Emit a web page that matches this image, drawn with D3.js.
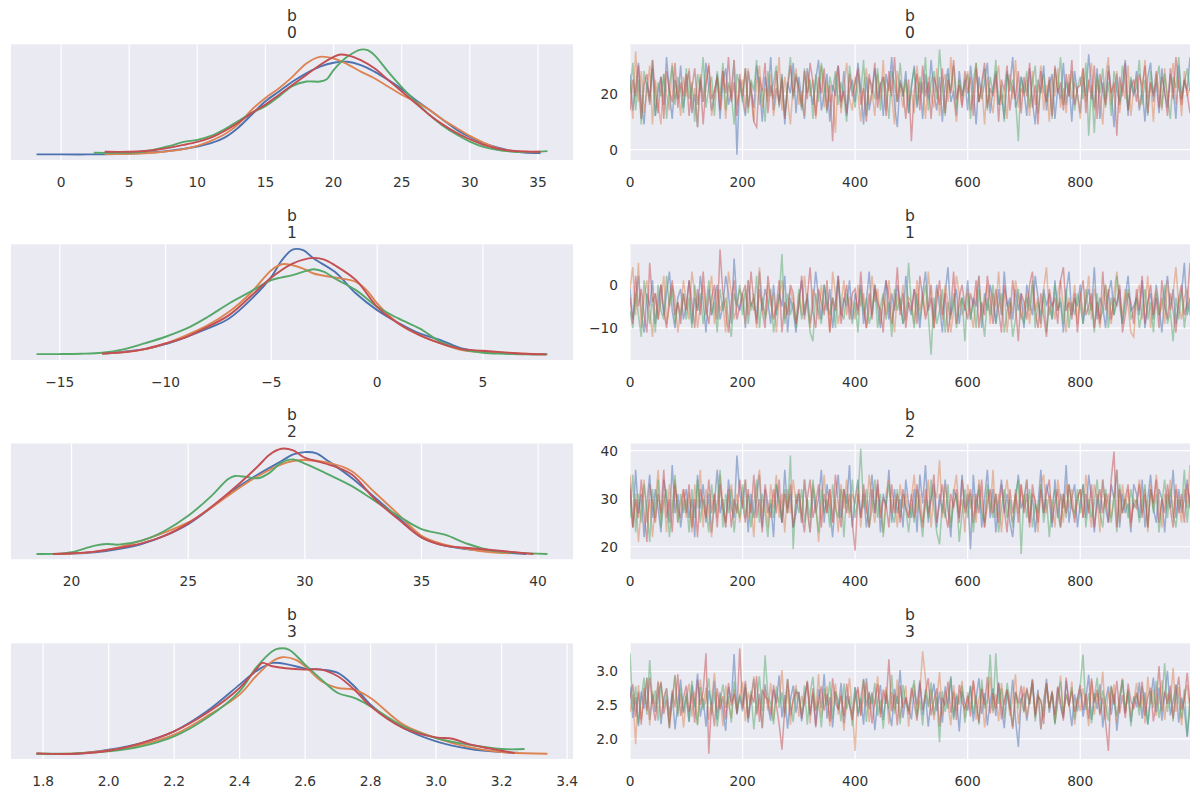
<!DOCTYPE html>
<html><head><meta charset="utf-8">
<script src="https://cdn.jsdelivr.net/npm/d3@7"></script>
<style>
body{margin:0;background:#fff}
svg{display:block}
text{font-family:"DejaVu Sans",sans-serif;fill:#333}
</style>
</head><body>
<svg id="chart" width="1200" height="796"></svg>
<script>
// ---------- labels ----------
const varName = "b";
const coordLabels = ["0", "1", "2", "3"];
const chainColors = ["#4c72b0", "#dd8452", "#55a868", "#c44e52"];

// ---------- tick values ----------
const kdeTicks = [
  [0, 5, 10, 15, 20, 25, 30, 35],
  [-15, -10, -5, 0, 5],
  [20, 25, 30, 35, 40],
  [1.8, 2.0, 2.2, 2.4, 2.6, 2.8, 3.0, 3.2, 3.4]
];
const traceYTicks = [[0, 20], [-10, 0], [20, 30, 40], [2.0, 2.5, 3.0]];
const traceXTicks = [0, 200, 400, 600, 800];
const thin = 5; // every 5th draw kept

// ---------- KDE curves (x, relative density) per chain: blue, orange, green, red ----------
const kde0X = [
  [-1.8,0,2,4,6,8,10,11,12,13,14,15,16,17,18,19,20,21,22,23,24,25,26,27,28,29,30,31,32,33,34,35.2],
  [3.2,5,7,9,10,11,12,13,14,15,16,17,18,19,20,21,22,23,24,25,26,27,28,29,30,31,32,33,34,35],
  [2.4,4,6,8,9,10,11,12,13,14,15,16,17,18,19,19.5,20,21,22,22.5,23,24,25,26,27,28,29,30,31,32,33,34,35.7],
  [3.2,5,7,9,10,11,12,13,14,15,16,17,18,19,20,20.5,21,22,23,24,25,26,27,28,29,30,31,32,33,34,35.2]
];
const kde0Y = [
  [1,1,1,2,5,12,25,35,52,82,122,162,192,222,247,267,279,282,272,252,227,199,167,137,107,77,54,35,22,12,7,5],
  [2,3,7,17,27,42,62,92,137,172,202,237,277,297,292,275,252,232,207,182,162,137,107,82,57,37,20,12,9,8],
  [6,6,9,27,39,45,57,77,102,127,147,177,209,222,222,229,257,297,319,317,302,252,205,162,122,89,62,40,24,15,10,8,11],
  [9,9,15,30,39,52,72,97,127,152,182,212,242,272,297,304,302,287,262,227,192,157,122,92,67,47,30,19,12,10,9]
];
const kde1X = [
  [-13,-12,-11,-10,-9,-8,-7,-6,-5,-4.5,-4,-3.5,-3,-2,-1,0,1,2,3,4,5,6,7,8],
  [-13,-12,-11,-10,-9,-8,-7,-6,-5,-4.5,-4,-3.5,-3,-2,-1,-0.5,0,1,2,3,4,5,6,7,8],
  [-16.1,-15,-14,-13,-12,-11,-10,-9,-8,-7,-6,-5,-4,-3.5,-3,-2.5,-2,-1,0,1,2,3,4,5,6,7,8.05],
  [-13,-12,-11,-10,-9,-8,-7,-6,-5,-4,-3,-2.5,-2,-1,0,1,2,3,4,5,6,7,8]
];
const kde1Y = [
  [3,9,17,32,54,79,109,164,234,284,316,314,289,249,184,134,96,64,44,19,9,5,2,2],
  [3,8,16,34,59,89,129,184,254,272,269,259,244,232,219,194,154,94,59,34,14,8,6,3,1],
  [2,2,3,6,16,34,54,79,114,154,189,224,239,249,257,249,229,194,144,109,79,39,16,6,3,1,1],
  [4,7,17,34,54,84,119,174,232,274,291,286,269,224,144,94,59,34,17,12,7,3,1]
];
const kde2X = [
  [19.2,20,21,22,23,24,25,26,27,28,29,29.5,30,30.5,31,32,33,34,35,36,37,38,39,39.5],
  [19.2,20,21,22,23,24,25,26,27,28,29,29.5,30,31,32,33,34,35,36,37,38,38.8],
  [18.5,19.5,20,21,21.5,22,23,24,25,26,26.7,27,27.5,28,28.5,29,29.5,30,31,32,33,34,35,36,37,38,39,40.4],
  [19.2,20,21,22,23,24,25,26,27,28,28.5,29,29.5,30,31,32,33,34,35,36,37,38,39,39.8]
];
const kde2Y = [
  [0,1,5,15,30,55,90,140,195,240,280,300,307,303,280,230,170,110,50,25,14,7,2,0],
  [0,1,7,20,40,65,95,140,190,235,270,280,283,275,250,185,120,55,28,15,5,2],
  [0,1,5,25,30,28,40,70,115,175,225,235,232,228,245,275,285,272,240,205,160,115,75,58,30,10,4,0],
  [0,2,7,18,32,55,92,142,200,265,300,317,312,290,270,240,165,105,50,25,18,12,5,0]
];
const kde3X = [
  [1.78,1.9,2.0,2.1,2.2,2.3,2.4,2.45,2.5,2.55,2.6,2.65,2.7,2.75,2.8,2.9,3.0,3.1,3.2,3.25],
  [1.78,1.9,2.0,2.1,2.2,2.3,2.4,2.45,2.5,2.53,2.57,2.6,2.65,2.7,2.75,2.8,2.9,3.0,3.1,3.2,3.34],
  [1.78,1.9,2.0,2.1,2.2,2.3,2.4,2.45,2.5,2.52,2.55,2.6,2.65,2.7,2.75,2.8,2.9,3.0,3.1,3.2,3.27],
  [1.78,1.9,2.0,2.1,2.2,2.3,2.4,2.45,2.47,2.5,2.6,2.65,2.7,2.75,2.8,2.9,3.0,3.05,3.1,3.2,3.24]
];
const kde3Y = [
  [0,0,12,32,67,127,207,247,272,267,255,252,242,202,147,77,37,15,5,3],
  [0,1,10,27,57,112,177,232,277,289,282,262,217,197,192,167,87,47,20,5,0],
  [0,1,7,22,52,107,187,257,307,315,312,267,222,182,167,142,82,47,27,14,14],
  [1,0,9,32,67,122,197,252,272,262,252,252,232,192,142,77,49,45,29,9,2]
];

// ---------- traces (every 5th draw) per chain: blue, orange, green, red ----------
const trace0 = [
[27,14,22,31,17,9,24,19,29,12,21,26,16,33,20,11,25,18,30,15,
 23,28,13,20,8,26,17,31,22,14,19,27,11,24,29,16,21,32,-1.8,25,
 18,12,28,21,15,30,23,10,26,19,33,14,22,17,27,9,24,20,31,13,
 26,18,11,29,22,16,25,32,14,20,27,10,23,19,30,15,28,12,21,25,
 17,31,22,9,26,14,20,29,18,24,12,27,21,33,16,8,25,19,28,13,
 22,30,15,24,11,27,18,32,20,14,26,10,23,29,17,21,12,28,19,25,
 14,30,21,9,26,18,24,31,13,22,28,16,20,11,27,23,33,15,19,26,
 21,12,29,17,9,25,20,30,14,23,27,11,22,18,31,16,24,10,28,20,
 13,26,19,34,22,15,29,11,24,18,30,21,8,27,16,23,32,12,25,19,
 28,14,22,10,26,31,17,24,13,29,20,15,27,22,11,30,18,25,21,33],
[24,11,35,17,28,13,21,30,9,25,16,9,27,20,14,31,18,23,12,26,
 19,29,14,22,8,27,17,24,31,12,20,26,15,28,11,23,18,32,16,21,
 25,13,29,19,10,24,30,15,22,17,27,12,20,33,14,26,18,9,23,29,
 16,21,12,28,19,25,11,22,30,15,24,17,20,6,27,13,22,31,18,14,
 26,20,10,23,29,16,21,12,27,18,32,14,24,19,9,28,22,15,25,17,
 21,13,30,18,24,11,26,20,15,29,12,23,27,17,33,19,10,25,16,22,
 28,14,20,31,17,23,9,26,19,13,24,30,16,21,11,27,18,32,15,22,
 19,25,12,28,16,21,30,14,23,10,26,19,29,15,22,13,27,18,24,20,
 11,29,17,23,31,14,25,19,9,26,33,16,21,28,13,24,18,30,12,22,
 26,15,20,32,18,24,10,27,21,14,29,17,23,31,16,25,12,28,19,22],
[20,31,14,25,9,28,22,17,32,12,24,19,27,11,23,30,16,26,21,13,
 29,18,24,10,27,21,33,15,22,26,12,28,19,31,14,24,20,9,27,23,
 17,29,13,25,21,32,16,22,10,28,19,24,30,15,26,12,23,33,18,27,
 22,14,29,20,25,11,27,17,31,23,13,26,21,28,16,24,19,10,30,22,
 15,27,20,32,12,25,23,18,29,14,26,21,11,28,24,17,31,19,25,13,
 23,29,16,26,20,33,14,24,28,18,35.7,22,12,27,21,30,15,25,19,23,
 27,11,24,31,17,22,29,14,26,20,32,16,23,10,28,21,25,18,3,26,
 20,28,15,24,30,13,22,27,17,25,11,29,21,33,16,24,19,28,14,22,
 26,18,31,5,23,6,27,20,29,15,24,12,28,21,17,30,23,14,26,20,
 22,32,16,25,12,28,20,24,30,15,27,19,11,26,22,33,18,24,29,21],
[14,25,19,30,11,23,27,16,32,20,13,26,11,28,21,17,31,15,24,19,
 27,12,22,29,16,25,9,23,30,18,21,26,14,28,20,33,17,24,12,27,
 19,29,15,24,10,8,26,21,31,13,23,18,28,16,25,11,22,30,19,26,
 22,15,28,18,31,24,12,26,20,29,14,23,3,25,30,17,21,13,27,19,
 24,29,16,22,10,27,20,31,15,23,26,12,28,19,33,17,24,21,11,25,
 3,21,27,14,30,19,24,11,26,22,16,29,13,25,20,32,18,23,15,28,
 20,26,12,29,17,24,31,15,22,19,27,10,25,21,30,14,23,18,28,13,
 26,19,31,15,23,9,28,21,17,26,12,30,20,24,14,27,19,32,16,22,
 23,29,13,25,18,30,11,27,21,16,28,20,24,5,26,19,31,14,22,25,
 17,27,22,30,13,24,19,28,15,26,21,12,29,18,33,23,16,25,20,13]
];
const trace1 = [
[-1,-8,-3,2,-6,-11,-2,-5,1,-9,-4,0,-7,-2,3,-6,-10,-3,-1,-8,
 -5,1,-9,-3,-6,2,-4,-11,-1,-7,-3,0,-8,-5,2,-2,-9,6,-4,-6,
 -2,-10,1,-5,-3,-8,3,-6,-1,-4,-9,0,-7,-2,-5,2,-11,-3,-6,-11,
 -4,1,-7,-2,-9,-5,3,-3,-8,0,-6,-1,-10,-4,2,-7,-3,-5,1,-8,
 -2,-6,0,-9,-4,3,-7,-1,-5,-10,-3,1,-8,-2,-6,0,-4,-9,2,-5,
 -7,-1,-4,-10,-2,3,-6,-3,-8,0,-5,-11,-2,4,-7,-4,-1,-9,-3,-6,
 1,-8,-3,-5,2,-10,-2,-6,0,-4,-9,-1,-7,3,-5,-3,-8,-1,-6,-2,
 -10,0,-4,-7,2,-3,-9,-1,-5,-2,-8,1,-6,-4,-11,-2,3,-7,-3,-5,
 0,-9,-4,-1,-6,4,-8,-3,-5,-10,-2,1,-7,-4,-1,-9,-3,2,-6,-5,
 -3,-7,1,-10,-4,-2,-8,0,-5,-11,-3,2,-6,-1,-9,-4,-2,5,-7,-3],
[-1,4,-7,5,-10,-3,1,-6,-12,-2,-8,-4,2,-9,-5,0,-3,-11,-6,1,
 -4,-8,3,-2,-10,-5,0,-7,-3,2,-9,-1,-6,-4,-11,3,-2,-8,-5,-1,
 -3,-9,1,-6,-2,-10,4,-4,-7,0,-5,-2,-11,-3,1,-8,-6,-1,-4,-9,
 -2,-7,2,-5,-10,-1,-3,-8,0,-6,-4,-11,3,-2,-9,-5,1,-7,-3,-4,
 -8,0,-5,-2,-10,-6,2,-4,-1,-9,-3,-7,1,-5,-11,-2,-6,0,-8,-3,
 -4,-9,1,-6,-2,-7,3,-5,-10,-1,-3,-8,0,-4,-11,-6,2,-2,-7,-5,
 -1,-6,-10,-3,2,-8,-4,0,-9,-2,-5,3,-7,-1,-11,-4,-6,1,-3,-8,
 -5,-2,-9,0,-6,-3,-10,-1,4,-7,-4,-8,-2,1,-5,-11,-3,-6,0,-9,
 -2,-7,-4,2,-8,-1,-5,-10,-3,0,-6,-9,-2,3,-4,-7,-1,-5,-11,-12,
 -3,0,-8,-5,2,-10,-4,-1,-7,-3,-9,1,-6,-2,4,-5,-8,-3,-1,-6],
[-6,-10,-2,-7,-12,1,-4,-9,-3,-11,0,-6,-8,2,-5,-1,-9,-4,-7,-2,
 -8,-3,-10,0,-6,-2,-9,-5,1,-7,-4,-11,-1,-6,-3,-8,-12,-2,-5,0,
 -7,-1,-9,-4,-6,2,-10,-3,-8,-5,-1,-11,-6,-3,7,-9,-2,-7,-4,-10,
 -1,-8,-5,-3,-11,-13,-2,-6,-9,0,-4,-7,-3,-10,1,-6,-8,-2,-5,-9,
 -4,-11,-1,-7,-3,-9,-6,0,-10,-5,-2,-8,-4,-12,-1,-6,-3,-9,-7,5,
 -5,-10,-2,-8,-4,0,-7,-16.1,-3,-9,-6,-1,-11,-4,-8,-2,-10,-5,-3,-13,
 -2,-8,-4,-10,-1,-6,-12,-3,-7,0,-9,-5,-2,-11,-6,-4,-12,-8,-1,-7,
 -9,-3,-6,1,-10,-4,-7,-2,-11,-5,-8,0,-6,-3,-9,-1,-10,-4,-7,-2,
 -5,-9,-1,-7,-4,-11,-2,-8,-6,0,-10,-3,-7,2,-5,-9,-4,-1,-8,-6,
 -3,-10,-6,-1,-8,-4,-11,-2,-7,-5,0,-9,-6,-13,-3,-8,-1,-10,-4,-7],
[-3,-9,2,-5,-1,-7,-11,5,-4,-2,-8,0,-6,-10,-3,1,-7,-4,-9,-2,
 -6,1,-4,-10,-1,-7,3,-5,-9,-3,0,-8,8.05,-2,-6,-11,-4,1,-8,-5,
 -2,0,-7,3,-4,-9,-1,-6,-10,2,-3,-8,-5,1,-11,-4,-7,0,-2,-9,
 -5,2,-8,-3,4,-6,-10,-1,-4,-7,1,-11,-3,-6,2,-9,-4,0,-8,-2,
 -1,-7,3,-5,-10,-2,-8,0,-4,-6,-11,1,-3,-9,-5,4,-7,-2,-10,-4,
 -6,-1,-9,2,-3,-8,-5,0,-10,-4,1,-7,-2,-11,-6,3,-9,-3,0,-5,
 -8,-2,-5,1,-10,-4,-7,2,-3,-9,-1,-6,-11,0,-4,-8,1,-5,-13,-2,
 -4,-8,0,3,-6,-10,-2,-7,-12,-1,-5,-3,-9,1,4,-6,-4,-8,-2,-11,
 -3,1,-7,-5,-2,-10,-4,-9,3,-6,-1,-8,-3,-5,0,-11,-7,-2,-4,-9,
 -1,-6,2,-9,-4,0,-7,-3,-10,1,-5,-8,-2,-6,-11,-3,0,-7,-4,5]
];
const trace2 = [
[33,24,36,27,31,22,29,35,26,32,28,23,34,30,25,37,27,31,24,29,
 32,26,30,22,35,28,33,25,31,23,29,36,27,30,24,34,28,26,39,31,
 28,34,23,31,26,30,35,24,32,27,29,22,33,30,25,36,28,31,24,27,
 31,25,34,28,23,32,27,30,36,25,33,28,22,30,35,26,32,29,37,24,
 30,34,26,31,24,29,35,27,33,23,31,28,36,25,32,27,30,24,34,29,
 26,32,23,35,29,37,25,30,33,24,31,27,34,28,22,32,30,26,35,28,
 31,19.5,35,27,33,24,30,36,26,32,23,29,34,27,31,25,22,29,35,28,
 30,34,25,31,23,29,36,27,33,30,24,34,26,31,28,37,25,30,33,24,
 29,33,26,35,30,23,31,27,34,28,25,33,30,36,24,31,27,29,23,33,
 31,26,34,24,30,35,28,25,32,30,23,31,28,36,26,32,27,30,34,29],
[35,24,31,21,28,34,25,30,22,29,36,26,31,23,33,27,34,25,29,32,
 26,31,23,33,28,36,24,32,27,22,31,26,35,29,24,30,33,27,31,25,
 30,34,26,29,22,32,36,27,30,24,33,28,35,26,31,23,32,27,34,29,
 31,25,34,28,23,33,30,21,28,35,27,32,25,30,23,33,28,34,26,31,
 29,33,24,31,27,35,29,25,32,28,23,31,34,27,30,24,33,28,31,26,
 30,35,27,31,25,29,34,24,32,30,38,26,33,28,25,31,35,27,30,23,
 33,28,31,25,34,30,24,32,27,36,26,31,23,30,34,28,25,32,27,33,
 28,34,25,31,30,23,33,35,27,31,29,24,34,30,25,33,28,32,26,30,
 32,26,35,28,24,33,30,23,34,28,31,26,30,36,25,33,28,32,24,30,
 29,34,27,32,23,33,28,35,30,24,31,28,34,26,33,29,25,32,28,37],
[26,35,23,31,25,33,28,21,32,26,34,24,29,32,22,28,35,25,31,27,
 30,23,32,26,34,25,30,28,23,33,27,29,36,24,31,27,32,23,29,26,
 33,26,31,24,29,34,25,31,27,22,30,26,33,29,25,32,27,39,19.5,31,
 27,32,25,30,26,34,28,23,32,27,30,24,33,28,26,32,22,31,27,34,
 26,30,40.4,28,32,24,28,34,26,31,22,29,33,27,25,32,26,31,28,23,
 29,25,32,27,22,30,26,34,28,23,20.5,29,26,33,24,29,31,21,27,32,
 26,31,23,29,32,27,25,33,29,26,31,23,28,32,26,30,24,31,34,18.5,
 31,26,32,24,29,27,33,25,30,22,29,32,27,24,31,26,33,28,27,32,
 27,33,24,30,26,29,34,27,24,32,29,25,31,23,33,27,30,26,32,28,
 30,25,29,33,24,32,27,31,23,29,34,26,32,27,24,30,28,36,25,31],
[32,24,30,26,34,27,21,33,29,25,31,27,36,26,30,23,33,28,26,32,
 27,33,24,30,22,32,29,26,34,27,31,24,33,28,25,32,24,30,27,34,
 29,25,32,27,35,26,30,23,33,29,26,32,27,34,25,31,27,33,24,29,
 32,27,23,30,34,26,29,33,24,31,27,32,25,35,29,24,32,27,31,25,
 19.2,31,26,33,28,24,32,27,34,26,30,29,24,33,27,31,25,32,28,26,
 31,26,33,28,24,32,27,30,35,25,29,33,27,24,31,28,32,25,34,27,
 29,32,25,31,27,34,24,29,32,27,31,25,33,28,23,32,27,31,25,33,
 27,31,24,33,29,25,32,27,31,34,25,29,32,24,31,27,33,29,25,30,
 32,26,31,27,33,24,29,32,27,31,25,34,39.8,24,32,27,30,33,25,29,
 28,33,26,31,24,32,29,34,25,30,27,33,28,24,32,27,31,25,33,28]
];
const trace3 = [
[2.78,2.31,2.62,2.19,2.70,2.45,2.91,2.28,2.66,2.40,2.84,2.22,2.58,2.75,2.35,2.68,2.14,2.52,2.88,2.38,
 2.64,2.25,2.80,2.47,2.97,2.33,2.60,2.18,2.72,2.50,2.86,2.29,2.69,2.42,2.12,2.77,2.55,3.26,2.36,2.63,
 2.41,2.76,2.24,2.61,2.89,2.37,2.67,2.16,2.81,2.49,2.27,2.73,2.53,2.94,2.32,2.65,2.15,2.58,2.79,2.39,
 2.70,2.26,2.57,2.85,2.34,2.66,2.20,2.74,2.46,2.96,2.30,2.62,2.17,2.71,2.43,2.83,2.23,2.64,2.51,2.36,
 2.77,2.33,2.60,2.21,2.90,2.44,2.69,2.13,2.56,2.80,2.28,2.67,2.40,2.19,2.74,2.52,3.02,2.31,2.61,2.47,
 2.29,2.72,2.50,2.87,2.35,2.65,2.18,2.59,2.82,2.41,2.70,2.24,2.78,2.45,2.93,2.32,2.63,2.11,2.71,2.53,
 2.42,2.79,2.26,2.61,2.90,2.37,2.68,2.20,2.57,2.75,2.34,2.84,2.49,2.16,2.70,2.43,2.88,2.29,1.88,2.58,
 2.68,2.27,2.59,2.83,2.35,2.73,2.14,2.51,2.89,2.39,2.69,2.23,2.76,2.48,2.31,2.86,2.54,2.19,2.66,2.41,
 2.74,2.33,2.60,2.95,2.28,2.68,2.44,2.81,2.17,2.57,2.78,2.36,2.67,2.12,2.52,2.88,2.38,2.71,2.25,2.63,
 2.47,2.84,2.30,2.69,2.21,2.59,2.91,2.40,2.76,2.27,2.64,3.01,2.35,2.56,2.80,2.24,2.61,2.43,2.03,2.50],
[2.40,2.66,1.92,2.80,2.29,2.57,2.90,2.20,2.71,2.45,2.86,2.31,2.62,2.75,2.24,2.53,2.95,2.37,2.68,2.17,
 2.58,2.82,2.33,2.70,2.22,2.88,2.48,2.76,2.28,2.57,2.98,2.39,2.66,2.19,2.79,2.52,2.30,2.74,2.43,2.63,
 2.85,2.26,2.69,2.50,2.93,2.35,2.61,2.16,2.77,2.42,2.83,2.27,2.65,2.55,3.02,2.38,2.72,2.21,2.60,2.80,
 2.33,2.64,2.49,2.87,2.23,2.70,2.41,2.96,2.32,2.61,2.78,2.19,2.57,2.82,2.36,2.68,2.12,2.53,2.90,2.44,
 1.82,2.73,2.34,2.62,2.84,2.25,2.67,2.48,2.93,2.37,2.59,2.77,2.22,2.70,2.43,2.88,2.30,2.55,2.79,2.18,
 2.61,2.81,2.38,2.68,3.30,2.89,2.47,2.74,2.28,2.58,2.99,2.35,2.71,2.52,2.20,2.80,2.42,2.63,2.86,2.31,
 2.69,2.44,2.87,2.29,2.60,2.76,2.17,2.54,2.92,2.38,2.66,2.26,2.83,2.50,2.73,2.34,2.59,2.96,2.22,2.57,
 2.78,2.32,2.56,2.88,2.37,2.69,2.15,2.60,2.82,2.43,2.72,2.24,2.53,2.94,2.35,2.67,2.47,2.85,2.21,2.62,
 2.41,2.75,2.52,2.19,2.86,2.36,2.68,2.57,3.00,2.29,2.70,2.49,2.81,2.25,2.61,2.90,2.38,2.74,2.33,2.55,
 2.83,2.45,2.65,2.23,2.92,2.51,2.73,2.34,2.59,2.87,2.28,2.67,2.54,3.05,2.40,2.77,2.20,2.62,2.80,2.44],
[3.27,2.42,2.78,2.23,2.60,2.91,2.36,3.17,2.52,2.72,2.27,2.83,2.47,2.65,2.16,2.58,2.94,2.33,2.75,2.40,
 2.68,2.26,2.86,2.51,2.20,2.77,2.43,2.59,2.90,2.35,2.70,2.18,2.55,2.81,2.46,2.63,2.24,2.85,2.38,2.66,
 2.49,2.82,2.30,2.71,2.14,2.57,2.93,2.41,3.24,2.64,2.53,2.22,2.78,2.46,2.69,2.32,2.88,2.52,2.25,2.74,
 2.60,2.36,2.79,2.21,2.67,2.92,2.42,2.56,2.17,2.75,2.49,2.85,2.30,2.70,2.57,2.26,2.82,2.44,2.63,2.19,
 2.76,2.38,2.60,2.89,2.25,2.68,2.51,2.83,2.34,2.58,2.15,2.72,2.45,2.95,2.37,2.64,2.22,2.80,2.53,2.41,
 2.66,2.87,2.32,2.57,2.20,2.74,2.48,2.84,2.35,2.62,1.95,2.71,2.40,2.59,2.90,2.28,2.67,2.51,2.79,2.24,
 2.54,2.78,2.37,2.65,2.21,2.88,2.45,2.58,3.25,2.42,3.27,2.52,2.75,2.31,2.83,2.56,2.18,2.69,2.48,2.61,
 2.39,2.73,2.50,2.89,2.26,2.64,2.57,2.33,2.81,2.46,2.70,2.21,2.59,2.85,2.36,2.66,2.50,2.77,2.29,2.56,
 2.81,3.25,2.43,2.68,2.23,2.59,2.91,2.38,2.72,2.51,2.27,2.79,2.55,2.34,2.63,2.87,2.42,2.70,2.19,2.57,
 2.65,2.35,2.78,2.52,2.22,2.71,2.46,2.86,2.31,2.59,3.12,2.40,2.68,2.26,2.81,2.55,2.30,2.74,2.04,2.62],
[2.60,2.81,2.33,2.70,2.21,2.76,2.42,2.91,2.52,2.27,2.65,2.85,2.37,2.58,2.16,2.72,2.47,2.96,2.34,2.61,
 2.79,2.40,2.68,2.24,2.88,2.50,2.71,3.27,1.78,2.55,2.19,2.75,2.44,2.63,2.29,2.83,2.49,2.67,2.38,3.34,
 2.45,2.86,2.31,2.66,2.54,2.93,2.25,2.73,2.62,2.59,2.36,2.80,2.51,2.22,1.84,2.46,2.89,2.35,2.58,2.69,
 2.68,2.30,2.60,2.84,2.37,2.75,2.17,2.56,2.78,2.42,2.67,2.26,2.90,2.53,2.45,2.64,2.34,2.82,2.50,2.28,
 2.59,2.77,2.35,2.88,2.48,2.70,2.23,2.55,2.81,2.32,2.73,2.52,3.18,2.41,2.66,2.20,2.79,2.46,2.62,2.36,
 2.76,2.53,2.27,2.83,2.43,2.68,2.90,2.35,2.57,2.75,2.18,2.61,2.49,2.85,2.39,2.70,2.28,2.80,2.54,2.44,
 2.64,2.33,2.86,2.55,2.24,2.74,2.50,2.92,2.38,2.68,2.45,2.82,2.29,2.58,2.73,2.47,2.15,2.70,2.53,2.79,
 2.41,2.76,2.52,2.87,2.32,2.63,2.56,2.22,2.83,2.46,2.69,2.36,2.78,2.57,2.27,2.91,2.49,2.71,2.40,2.60,
 2.80,2.43,2.67,2.30,2.90,2.54,2.73,2.35,2.61,2.24,1.82,2.77,2.51,2.86,2.38,2.65,2.31,2.82,2.56,2.44,
 2.69,2.48,2.85,2.34,2.62,2.76,2.26,2.55,3.08,2.41,2.70,2.52,2.79,2.30,2.64,2.92,2.43,2.58,2.98,2.53]
];

// ---------- drawing ----------
const panels = [
  {kdeX: kde0X, kdeY: kde0Y, trace: trace0, ticks: kdeTicks[0], yt: traceYTicks[0], fmt: d3.format("d"), yfmt: d3.format("d")},
  {kdeX: kde1X, kdeY: kde1Y, trace: trace1, ticks: kdeTicks[1], yt: traceYTicks[1], fmt: d3.format("d"), yfmt: d3.format("d")},
  {kdeX: kde2X, kdeY: kde2Y, trace: trace2, ticks: kdeTicks[2], yt: traceYTicks[2], fmt: d3.format("d"), yfmt: d3.format("d")},
  {kdeX: kde3X, kdeY: kde3Y, trace: trace3, ticks: kdeTicks[3], yt: traceYTicks[3], fmt: d3.format(".1f"), yfmt: d3.format(".1f")}
];

const svg = d3.select("#chart");
const rowTop = [44.3, 244.3, 443.5, 643.3];
const rowH = 115.7;
const leftRange = [11, 573];
const rightRange = [630, 1190];
const bg = "#eaeaf2";
const defs = svg.append("defs");

function padded(ext) { const r = ext[1] - ext[0]; return [ext[0] - 0.05 * r, ext[1] + 0.05 * r]; }

function titles(cx, top, coord) {
  svg.append("text").attr("x", cx).attr("y", top - 23.5).attr("text-anchor", "middle")
    .style("font-size", "15.5px").text(varName);
  svg.append("text").attr("x", cx).attr("y", top - 6.5).attr("text-anchor", "middle")
    .style("font-size", "15.5px").text(coord);
}

panels.forEach((p, r) => {
  const top = rowTop[r], bot = top + rowH;

  // ----- left: KDE -----
  const x = d3.scaleLinear().domain(padded(d3.extent(p.kdeX.flat()))).range(leftRange);
  const y = d3.scaleLinear().domain(padded([0, d3.max(p.kdeY.flat())])).range([bot, top]);
  const gl = svg.append("g");
  gl.append("rect").attr("x", leftRange[0]).attr("y", top)
    .attr("width", leftRange[1] - leftRange[0]).attr("height", rowH).attr("fill", bg);
  defs.append("clipPath").attr("id", "cl" + r).append("rect")
    .attr("x", leftRange[0]).attr("y", top).attr("width", leftRange[1] - leftRange[0]).attr("height", rowH);
  gl.append("g").selectAll("line").data(p.ticks).join("line")
    .attr("x1", d => x(d)).attr("x2", d => x(d)).attr("y1", top).attr("y2", bot)
    .attr("stroke", "#fff").attr("stroke-width", 1.2);
  gl.append("g").selectAll("text").data(p.ticks).join("text")
    .attr("x", d => x(d)).attr("y", bot + 27).attr("text-anchor", "middle")
    .style("font-size", "13.75px").text(d => p.fmt(d));
  const line = d3.line().x(d => x(d[0])).y(d => y(d[1])).curve(d3.curveCatmullRom.alpha(0.5));
  const lg = gl.append("g").attr("clip-path", `url(#cl${r})`);
  p.kdeX.forEach((xs, c) => {
    const pts = xs.map((v, i) => [v, p.kdeY[c][i]]);
    lg.append("path").attr("d", line(pts)).attr("fill", "none")
      .attr("stroke", chainColors[c]).attr("stroke-width", 1.9);
  });
  titles((leftRange[0] + leftRange[1]) / 2, top, coordLabels[r]);

  // ----- right: trace -----
  const draws = p.trace[0].map((_, i) => i * thin);
  const tx = d3.scaleLinear().domain([0, d3.max(draws)]).range(rightRange);
  const ty = d3.scaleLinear().domain(padded(d3.extent(p.trace.flat()))).range([bot, top]);
  const gr = svg.append("g");
  gr.append("rect").attr("x", rightRange[0]).attr("y", top)
    .attr("width", rightRange[1] - rightRange[0]).attr("height", rowH).attr("fill", bg);
  defs.append("clipPath").attr("id", "cr" + r).append("rect")
    .attr("x", rightRange[0]).attr("y", top).attr("width", rightRange[1] - rightRange[0]).attr("height", rowH);
  gr.append("g").selectAll("line").data(traceXTicks).join("line")
    .attr("x1", d => tx(d)).attr("x2", d => tx(d)).attr("y1", top).attr("y2", bot)
    .attr("stroke", "#fff").attr("stroke-width", 1.2);
  gr.append("g").selectAll("line").data(p.yt).join("line")
    .attr("x1", rightRange[0]).attr("x2", rightRange[1]).attr("y1", d => ty(d)).attr("y2", d => ty(d))
    .attr("stroke", "#fff").attr("stroke-width", 1.2);
  gr.append("g").selectAll("text").data(traceXTicks).join("text")
    .attr("x", d => tx(d)).attr("y", bot + 27).attr("text-anchor", "middle")
    .style("font-size", "13.75px").text(d => d);
  gr.append("g").selectAll("text").data(p.yt).join("text")
    .attr("x", rightRange[0] - 12).attr("y", d => ty(d) + 5).attr("text-anchor", "end")
    .style("font-size", "13.75px").text(d => p.yfmt(d));
  const tline = d3.line().x((d, i) => tx(draws[i])).y(d => ty(d));
  const tg = gr.append("g").attr("clip-path", `url(#cr${r})`);
  p.trace.forEach((vals, c) => {
    tg.append("path").attr("d", tline(vals)).attr("fill", "none")
      .attr("stroke", chainColors[c]).attr("stroke-width", 1.5).attr("stroke-opacity", 0.5);
  });
  titles((rightRange[0] + rightRange[1]) / 2, top, coordLabels[r]);
});
</script>
</body></html>
